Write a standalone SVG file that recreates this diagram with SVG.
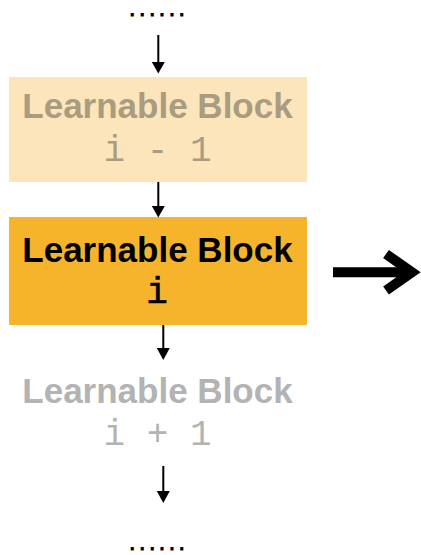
<svg xmlns="http://www.w3.org/2000/svg" width="421" height="555" viewBox="0 0 421 555">
  <style>
    .title { font-family: "Liberation Sans", Arial, sans-serif; font-weight: bold; font-size: 35px; text-anchor: middle; }
    .idx { font-family: "Liberation Mono", "Courier New", monospace; font-size: 36px; text-anchor: middle; }
    .dots { font-family: "Liberation Sans", Arial, sans-serif; font-size: 16px; font-weight: bold; letter-spacing: 5.45px; fill: #000; stroke: #000; stroke-width: 0.8px; }
    .flow { stroke: #000; stroke-width: 2; fill: none; }
    .head { fill: #000; }
  </style>
  <rect width="421" height="555" fill="#ffffff"/>

  <text class="dots" x="130.1" y="16">......</text>

  <g id="block-prev">
    <rect x="9" y="77" width="298" height="105" fill="#fce5bb"/>
    <text class="title" x="157.5" y="118" fill="#a99c80">Learnable Block</text>
    <text class="idx" x="157.5" y="161" fill="#a99c80">i - 1</text>
  </g>

  <g id="block-current">
    <rect x="9" y="217" width="298" height="108" fill="#f6b42c"/>
    <text class="title" x="157.5" y="261.5" fill="#000">Learnable Block</text>
    <text class="idx" x="157" y="303" fill="#000" stroke="#000" stroke-width="0.6">i</text>
  </g>

  <g id="block-next">
    <text class="title" x="157.5" y="403" fill="#b3b3b3" font-size="34">Learnable Block</text>
    <text class="idx" x="157.5" y="445" fill="#b3b3b3">i + 1</text>
  </g>

  <text class="dots" x="130.1" y="550">......</text>

  <g id="connectors">
    <line class="flow" x1="158.3" y1="35" x2="158.3" y2="64"/>
    <polygon class="head" points="151.8,62 164.8,62 158.3,73.5"/>

    <line class="flow" x1="158.3" y1="182" x2="158.3" y2="208"/>
    <polygon class="head" points="151.8,206 164.8,206 158.3,217.5"/>

    <line class="flow" x1="163.3" y1="325" x2="163.3" y2="350"/>
    <polygon class="head" points="156.8,348 169.8,348 163.3,360"/>

    <line class="flow" x1="163.3" y1="466" x2="163.3" y2="493"/>
    <polygon class="head" points="156.8,491 169.8,491 163.3,503"/>

    <g id="output-arrow">
      <line x1="333" y1="272.3" x2="412" y2="272.3" stroke="#000" stroke-width="10"/>
      <polyline points="386,254 412,272.3 386,290.5" stroke="#000" stroke-width="10" fill="none" stroke-linejoin="miter"/>
    </g>
  </g>
</svg>
